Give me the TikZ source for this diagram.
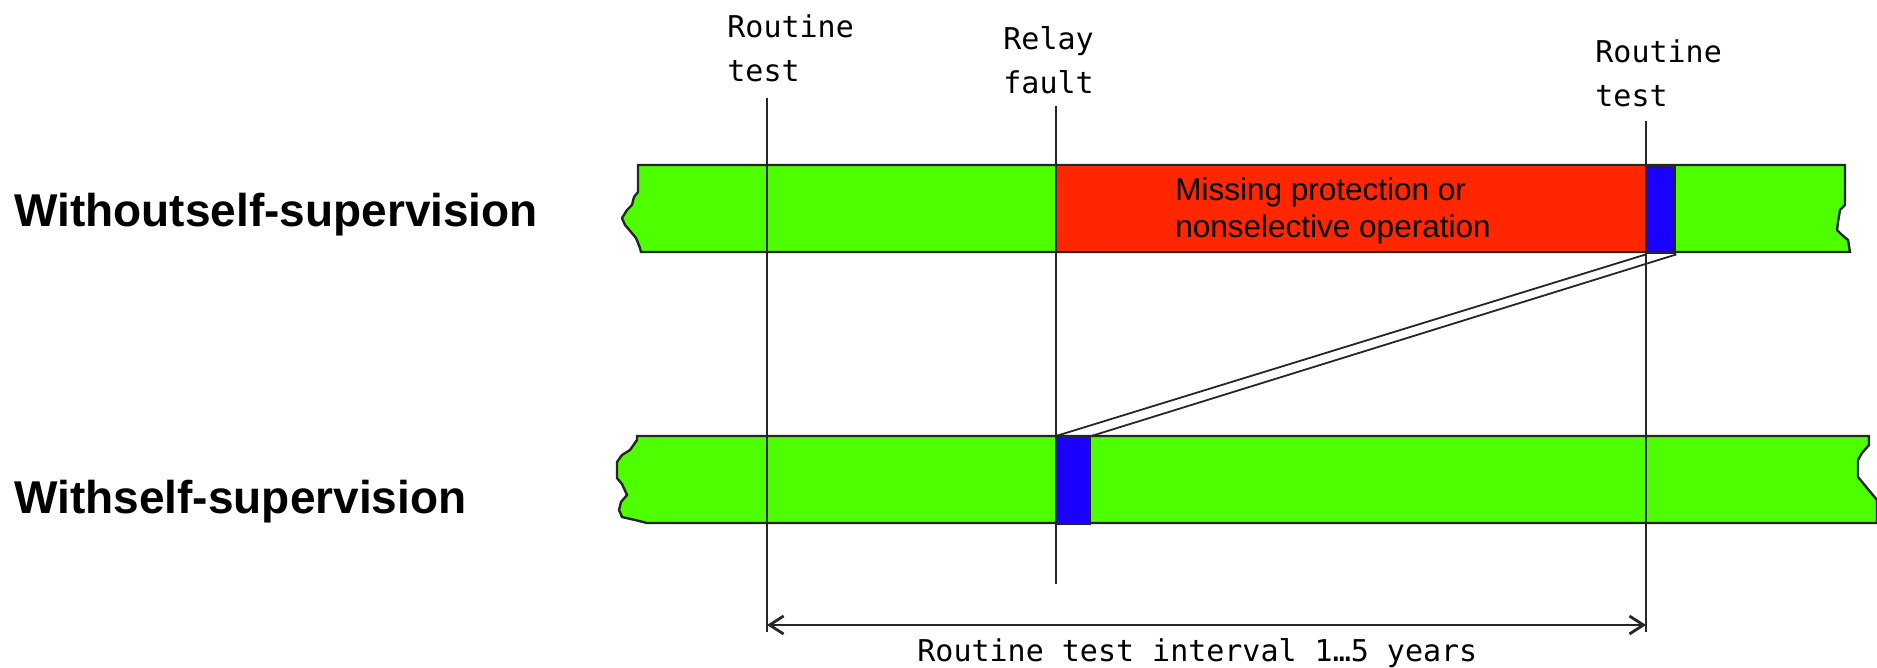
\documentclass[tikz,border=0pt]{standalone}
\usepackage{fontspec}
\setmainfont{Liberation Sans}
\newfontfamily\pixfont{DejaVu Sans Mono}
\usetikzlibrary{arrows.meta}
\definecolor{barGreen}{RGB}{77,255,0}
\definecolor{barRed}{RGB}{255,38,0}
\definecolor{barBlue}{RGB}{26,0,255}
\tikzset{
  outline/.style={draw=black!85, line width=1.2pt, line join=miter},
  greenbar/.style={fill=barGreen, outline},
  redseg/.style={fill=barRed, draw=none, inner sep=0pt, minimum width=295pt, minimum height=43.5pt, anchor=north west},
  blueseg/.style={fill=barBlue, draw=black!85, line width=1.2pt, inner sep=0pt, minimum height=43.5pt, anchor=north west},
  marker/.style={draw=black!85, line width=1.1pt},
  linkline/.style={draw=black!85, line width=0.9pt},
  dimarrow/.style={draw=black!85, line width=1.4pt, {Straight Barb[length=7pt,width=9pt]}-{Straight Barb[length=7pt,width=9pt]}},
  pixlabel/.style={font=\pixfont\fontsize{15pt}{22pt}\selectfont, inner sep=0pt, align=left, anchor=base west},
  rowlabel/.style={font=\bfseries\fontsize{23pt}{27pt}\selectfont, inner sep=0pt, anchor=base west},
  redtext/.style={font=\fontsize{15.75pt}{18.5pt}\selectfont, inner sep=0pt, align=left, anchor=base west}
}
\begin{document}
\begin{tikzpicture}[x=0.5pt, y=-0.5pt]
\useasboundingbox (0,0) rectangle (1877,668);

% row labels
\node[rowlabel] (lwithout) at (14,227) {Withoutself-supervision};
\node[rowlabel] (lwith) at (14,513) {Withself-supervision};

% top bar (without self-supervision)
\path[greenbar] (638,165) -- (1845,165) -- (1845,205) -- (1840,210) -- (1838,222) -- (1837,230)
  -- (1842,235) -- (1848,240) -- (1850,252) -- (641,252) -- (640,248) -- (636,238) -- (631,232)
  -- (625,225) -- (622,218) -- (627,210) -- (632,205) -- (634,197) -- (638,192) -- cycle;
\node[redseg] (miss) at (1056,166) {};
\node[blueseg, minimum width=14pt] (bt) at (1646,165) {};
\draw[outline] (638,165) -- (1845,165);
\draw[outline] (1850,252) -- (641,252);

% bottom bar (with self-supervision)
\path[greenbar] (637,436) -- (1869,436) -- (1869,445) -- (1862,453) -- (1858,460) -- (1858,477)
  -- (1867,488) -- (1877,500) -- (1877,523) -- (647,523) -- (635,520) -- (622,517) -- (619,510)
  -- (621,502) -- (627,495) -- (622,484) -- (617,478) -- (617,462) -- (622,455) -- (630,450)
  -- (637,440) -- cycle;
\node[blueseg, minimum width=16.5pt] (bb) at (1056,436) {};

% text in red segment
\node[redtext] (misstext) at (1175,237) {Missing protection or\\nonselective operation};

% link between the two blue segments
\draw[linkline] (bb.north west) -- (bt.south west);
\draw[linkline] (bb.north east) -- (bt.south east);

% vertical markers
\coordinate (t1top) at (767,98);
\coordinate (t1bot) at (767,632);
\coordinate (rftop) at (1056,106);
\coordinate (rfbot) at (1056,584);
\coordinate (t2top) at (1646,121);
\coordinate (t2bot) at (1646,632);
\draw[marker] (t1top) -- (t1bot);
\draw[marker] (rftop) -- (rfbot);
\draw[marker] (t2top) -- (t2bot);

% marker labels
\node[pixlabel] (lt1) at (727,82) {Routine\\test};
\node[pixlabel] (lrf) at (1003,94) {Relay\\fault};
\node[pixlabel] (lt2) at (1595,107) {Routine\\test};

% interval dimension
\coordinate (ia) at (767,625);
\coordinate (ib) at (1646,625);
\draw[dimarrow] (ia) -- (ib);
\node[pixlabel] (ilabel) at (917,661) {Routine test interval 1…5 years};
\end{tikzpicture}
\end{document}
